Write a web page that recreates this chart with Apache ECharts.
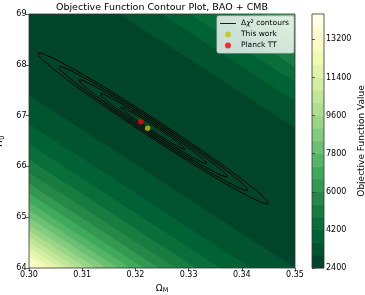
<!DOCTYPE html>
<html><head><meta charset="utf-8">
<script src="https://cdn.jsdelivr.net/npm/echarts@6/dist/echarts.min.js"></script>
<style>html,body{margin:0;padding:0;background:#fff}#c{width:365px;height:295px}</style>
</head><body><div id="c"></div>
<script>
// ---- axes / ticks ----
const omegaTicks = [0.30, 0.31, 0.32, 0.33, 0.34, 0.35];
const h0Ticks = [64, 65, 66, 67, 68, 69];
const levels = [2400,3000,3600,4200,4800,5400,6000,6600,7200,7800,8400,9000,9600,10200,10800,11400,12000,12600,13200,13800,14400];
const colorbarTicks = [2400, 4200, 6000, 7800, 9600, 11400, 13200];
// ---- objective-function surface ----
const valleyOmega = [0.30, 0.35];      // Omega_M where the valley line is read
const valleyH0 = [68.85, 65.45];       // H0 of the valley bottom at those Omega_M
const floorValue = [2450, 2450];       // objective value along valley bottom
const quadBelow = [240, 240];          // curvature below valley (per H0^2)
const quartBelow = [10.7, 10.7];
const quadAbove = [300, 300];          // curvature above valley
const quartAbove = [12, 12];
// ---- delta chi^2 contours ----
const bestFit = [0.3233, 66.75];
const sigma = [0.00405, 0.278];
const rho = -0.9903;
const deltaChi2 = [2.30, 6.18, 11.83, 19.33, 28.74];
// ---- points ----
const thisWork = [0.3223, 66.75];
const planckTT = [0.321, 66.88];

const FONT = 'DejaVu Sans';
const ylgnStops = ['#ffffe5','#f7fcb9','#d9f0a3','#addd8e','#78c679','#41ab5d','#238443','#006837','#004529'];
function hex(c){return [parseInt(c.substr(1,2),16),parseInt(c.substr(3,2),16),parseInt(c.substr(5,2),16)];}
function ylgn(t){
  const n = ylgnStops.length-1; const p = Math.min(Math.max(t,0),1)*n; const i = Math.min(Math.floor(p), n-1); const f = p-i;
  const a = hex(ylgnStops[i]), b = hex(ylgnStops[i+1]);
  return 'rgb(' + a.map((v,j)=>Math.round(v+(b[j]-v)*f)).join(',') + ')';
}
const nBands = levels.length-1;
const bandColors = []; for (let i=0;i<nBands;i++) bandColors.push(ylgn(1 - i/(nBands-1)));

function lerp(arr, t){ return arr[0] + (arr[1]-arr[0])*t; }
function surf(om){
  const t = (om - valleyOmega[0])/(valleyOmega[1]-valleyOmega[0]);
  return {hv: lerp(valleyH0,t), fl: lerp(floorValue,t), qb: lerp(quadBelow,t), kb: lerp(quartBelow,t), qa: lerp(quadAbove,t), ka: lerp(quartAbove,t)};
}
function solveW(d, a, b){ if (d<=0) return 0; return Math.sqrt((-a + Math.sqrt(a*a + 4*b*d))/(2*b)); }

function renderBand(params, api){
  const k = api.value(2);
  if (k === nBands) { // full background with the lightest band
    const p0 = api.coord([omegaTicks[0], h0Ticks[h0Ticks.length-1]]);
    const p1 = api.coord([omegaTicks[omegaTicks.length-1], h0Ticks[0]]);
    return {type:'rect', shape:{x:p0[0]-1,y:p0[1]-1,width:p1[0]-p0[0]+2,height:p1[1]-p0[1]+2}, style:{fill:bandColors[nBands-1]}};
  }
  const L = levels[k];
  const N = 160, lo=[], up=[];
  const o0 = omegaTicks[0]-0.002, o1 = omegaTicks[omegaTicks.length-1]+0.002;
  for (let i=0;i<=N;i++){
    const om = o0 + (o1-o0)*i/N; const s = surf(om); const d = L - s.fl;
    lo.push(api.coord([om, s.hv - solveW(d, s.qb, s.kb)]));
    up.push(api.coord([om, s.hv + solveW(d, s.qa, s.ka)]));
  }
  return {type:'polygon', shape:{points: lo.concat(up.reverse())}, style:{fill: bandColors[k-1]}};
}
const bandData = []; for (let k=nBands;k>=1;k--) bandData.push([0.325, 66.5, k]);

function ellipse(dc){
  const pts=[]; const M=360;
  for (let i=0;i<=M;i++){
    const th = 2*Math.PI*i/M, c=Math.cos(th), s=Math.sin(th), r=Math.sqrt(dc);
    pts.push([bestFit[0] + r*sigma[0]*c, bestFit[1] + r*sigma[1]*(rho*c + Math.sqrt(1-rho*rho)*s)]);
  }
  return pts;
}
const ellipseSeries = deltaChi2.map(dc => ({
  type:'line', name:'Δχ² contours', data: ellipse(dc), symbol:'none', showSymbol:false,
  lineStyle:{color:'#000', width:1}, itemStyle:{color:'#000'}, z:5, clip:true, silent:true, xAxisIndex:0, yAxisIndex:0
}));

function frameRender(xr, yr){
  return function(params, api){
    const p0 = api.coord([xr[0], yr[1]]), p1 = api.coord([xr[1], yr[0]]);
    return {type:'rect', shape:{x:p0[0], y:p0[1], width:p1[0]-p0[0], height:p1[1]-p0[1]}, style:{fill:null, stroke:'#333', lineWidth:0.8}};
  };
}

const tickLabel = {fontFamily:FONT, fontSize:8, color:'#000'};
const chart = echarts.init(document.getElementById('c'), null, {renderer:'canvas', width:365, height:295});
chart.setOption({
  animation:false,
  textStyle:{fontFamily:FONT},
  grid:[
    {left:29, top:14, width:266, height:254, outerBoundsMode:'none'},
    {left:312, top:14, width:12, height:254, outerBoundsMode:'none'}
  ],
  xAxis:[
    {gridIndex:0, type:'value', min:omegaTicks[0], max:omegaTicks[omegaTicks.length-1], interval:0.01,
     axisLine:{show:false}, splitLine:{show:false},
     axisTick:{show:true, length:3.5, lineStyle:{color:'#333', width:0.8}},
     axisLabel:Object.assign({margin:3, formatter:v=>v.toFixed(2)}, tickLabel),
     name:'{a|Ω}{b|M}', nameLocation:'middle', nameGap:14,
     nameTextStyle:{rich:{a:{fontFamily:FONT,fontSize:9,color:'#000'}, b:{fontFamily:FONT,fontSize:6.5,color:'#000',verticalAlign:'bottom',padding:[4,0,0,0]}}}, z:10},
    {gridIndex:1, type:'value', min:0, max:1, show:false}
  ],
  yAxis:[
    {gridIndex:0, type:'value', min:h0Ticks[0], max:h0Ticks[h0Ticks.length-1], interval:1,
     axisLine:{show:false}, splitLine:{show:false},
     axisTick:{show:true, length:3.5, lineStyle:{color:'#333', width:0.8}},
     axisLabel:Object.assign({margin:2.5}, tickLabel),
     name:'{a|H}{b|0}', nameLocation:'middle', nameGap:21, nameRotate:90,
     nameTextStyle:{rich:{a:{fontFamily:FONT,fontSize:9,fontStyle:'italic',color:'#000'}, b:{fontFamily:FONT,fontSize:6.5,color:'#000',verticalAlign:'bottom',padding:[4,0,0,0]}}}, z:10},
    {gridIndex:1, type:'value', min:levels[0], max:levels[levels.length-1], position:'right',
     axisLine:{show:false}, splitLine:{show:false},
     axisTick:{show:true, length:3, customValues:colorbarTicks, lineStyle:{color:'#333', width:0.8}},
     axisLabel:Object.assign({margin:2, customValues:colorbarTicks, formatter:v=>String(Math.round(v))}, tickLabel),
     name:'Objective Function Value', nameLocation:'middle', nameRotate:90, nameGap:33,
     nameTextStyle:{fontFamily:FONT, fontSize:9, color:'#000'}, z:10}
  ],
  legend:{
    left:217, top:16, orient:'vertical', selectedMode:false,
    backgroundColor:'rgba(255,255,255,0.8)', borderColor:'#cccccc', borderWidth:0.8, borderRadius:2,
    padding:[3,5,3,3], itemWidth:16, itemHeight:6, itemGap:2,
    textStyle:{fontFamily:FONT, fontSize:7.5, color:'#000', lineHeight:9,
      rich:{c:{fontFamily:FONT,fontSize:7.5,fontStyle:'italic'}, s:{fontFamily:FONT,fontSize:5,verticalAlign:'top'}}},
    formatter: n => n === 'Δχ² contours' ? 'Δ{c|χ}{s|2} contours' : n,
    data:[{name:'Δχ² contours', icon:'path://M0,0h20v1.1h-20z', itemStyle:{color:'#000'}},
          {name:'This work', icon:'circle'}, {name:'Planck TT', icon:'circle'}]
  },
  graphic:[{type:'text', x:162, y:8, style:{text:'Objective Function Contour Plot, BAO + CMB', font:'9.5px "DejaVu Sans"', fill:'#000', textAlign:'center', textVerticalAlign:'middle'}}],
  series:[
    {type:'custom', name:'field', xAxisIndex:0, yAxisIndex:0, clip:true, z:1, silent:true, data:bandData, renderItem:renderBand},
    ...ellipseSeries,
    {type:'scatter', name:'This work', data:[thisWork], symbolSize:5.5, itemStyle:{color:'#c4c400'}, z:6, silent:true},
    {type:'scatter', name:'Planck TT', data:[planckTT], symbolSize:5.5, itemStyle:{color:'#ff0000'}, z:6, silent:true},
    {type:'custom', name:'frame', xAxisIndex:0, yAxisIndex:0, clip:false, z:8, silent:true, data:[[0.325,66.5]],
     renderItem:frameRender([omegaTicks[0], omegaTicks[omegaTicks.length-1]], [h0Ticks[0], h0Ticks[h0Ticks.length-1]])},
    {type:'custom', name:'cbar', xAxisIndex:1, yAxisIndex:1, clip:false, z:1, silent:true,
     data: bandColors.map((c,k)=>[0.5, levels[k], k]),
     renderItem:(params, api)=>{ const k=api.value(2); const p0=api.coord([0, levels[k+1]]), p1=api.coord([1, levels[k]]);
       return {type:'rect', shape:{x:p0[0], y:p0[1]-0.3, width:p1[0]-p0[0], height:p1[1]-p0[1]+0.6}, style:{fill:bandColors[k]}}; }},
    {type:'custom', name:'cbarFrame', xAxisIndex:1, yAxisIndex:1, clip:false, z:8, silent:true, data:[[0.5, 8000]],
     renderItem:frameRender([0,1],[levels[0], levels[levels.length-1]])}
  ]
});
</script></body></html>
